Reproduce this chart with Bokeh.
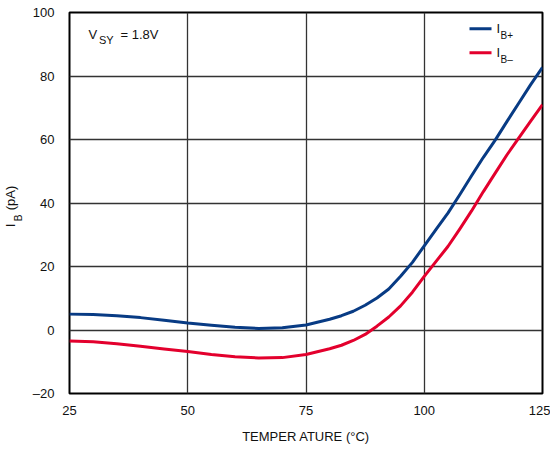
import numpy as np
from bokeh.plotting import figure
from bokeh.models import FixedTicker, Label, BoxAnnotation, ColumnDataSource, LinearAxis
from bokeh.embed import file_html
from bokeh.resources import INLINE

# ---- data ----
temperature = [25, 30, 35, 40, 45, 50, 55, 60, 65, 70, 75, 80, 82.5, 85, 87.5, 90, 92.5, 95, 97.5,
               100, 102.5, 105, 107.5, 110, 112.5, 115, 117.5, 120, 122.5, 125]
ib_plus = [5.0, 4.9, 4.5, 3.9, 3.1, 2.2, 1.5, 0.9, 0.5, 0.7, 1.6, 3.4, 4.5, 5.9, 7.8, 10.1, 12.9, 16.9, 21.3,
           26.5, 31.7, 36.8, 42.6, 48.6, 54.4, 59.8, 65.7, 71.5, 77.3, 82.7]
ib_minus = [-3.5, -3.7, -4.3, -5.1, -6.0, -6.8, -7.7, -8.4, -8.8, -8.7, -7.7, -5.9, -4.8, -3.3, -1.4, 1.2, 4.1, 7.6, 11.9,
            16.9, 21.6, 26.3, 31.8, 37.5, 43.6, 49.4, 55.2, 60.5, 65.8, 71.0]
x_ticks = [25, 50, 75, 100, 125]
y_ticks = [-20, 0, 20, 40, 60, 80, 100]

BLUE = "#083b84"
RED = "#e3002d"
FONT = "Liberation Sans"
TXT = "#111111"

W, H = 550, 450
ML, MR, MT, MB = 68, 8, 12, 57
FW = W - ML - MR          # frame width in px
FH = H - MT - MB          # frame height in px
Y0, Y1 = -20, 100

p = figure(width=W, height=H, x_range=(25, 125), y_range=(Y0, Y1),
           output_backend="svg", toolbar_location=None,
           min_border_left=ML, min_border_right=MR, min_border_top=MT, min_border_bottom=MB)

p.background_fill_color = "white"
p.border_fill_color = "white"
p.outline_line_color = "black"
p.outline_line_width = 2

src = ColumnDataSource(dict(t=temperature, ibp=ib_plus, ibm=ib_minus))
p.line("t", "ibp", source=src, line_color=BLUE, line_width=3, line_join="round")
p.line("t", "ibm", source=src, line_color=RED, line_width=3, line_join="round")

def plain(ax):
    ax.axis_line_color = None
    ax.major_tick_line_color = None
    ax.minor_tick_line_color = None
    ax.major_tick_out = 0
    ax.major_tick_in = 0
    ax.minor_tick_out = 0
    ax.minor_tick_in = 0
    ax.major_label_text_font = FONT
    ax.major_label_text_font_size = "13px"
    ax.major_label_text_color = TXT

# main axes
p.xaxis.ticker = FixedTicker(ticks=x_ticks)
p.yaxis.ticker = FixedTicker(ticks=y_ticks)
p.yaxis.major_label_overrides = {-20: "\u201320"}
plain(p.xaxis[0])
plain(p.yaxis[0])
p.xaxis.major_label_standoff = 12
p.yaxis.major_label_standoff = 15
p.xaxis.axis_label = "TEMPER ATURE (\u00b0C)"
p.xaxis.axis_label_text_font = FONT
p.xaxis.axis_label_text_font_size = "13px"
p.xaxis.axis_label_text_font_style = "normal"
p.xaxis.axis_label_text_color = TXT
p.xaxis.axis_label_standoff = 11

p.xgrid.ticker = FixedTicker(ticks=x_ticks)
p.ygrid.ticker = FixedTicker(ticks=y_ticks)
for g in (p.xgrid[0], p.ygrid[0]):
    g.grid_line_color = "#333333"
    g.grid_line_width = 1.3

# y-axis title  I_B (pA): vertical text placed by two label-only axes
def y_at(px):  # page pixel row -> y value (for placing the title pieces)
    return round(Y0 + (MT + FH - px) / FH * (Y1 - Y0), 2)

yI, yB, yPA = y_at(225), y_at(217.5), y_at(197.5)

sub_axis = LinearAxis(ticker=FixedTicker(ticks=[yB]), major_label_overrides={yB: "B"})
plain(sub_axis)
sub_axis.major_label_text_font_size = "10px"
sub_axis.major_label_orientation = "vertical"
sub_axis.major_label_standoff = 5
p.add_layout(sub_axis, "left")

main_axis = LinearAxis(ticker=FixedTicker(ticks=[yI, yPA]), major_label_overrides={yI: "I", yPA: "(pA)"})
plain(main_axis)
main_axis.major_label_orientation = "vertical"
main_axis.major_label_standoff = -8
p.add_layout(main_axis, "left")

def lab(text, x, y, size, align="left"):
    p.add_layout(Label(x=x, y=y, x_units="screen", y_units="screen", text=text,
                       text_font=FONT, text_font_size=size, text_color=TXT,
                       text_align=align, text_baseline="middle"))

# annotation V_SY = 1.8V
lab("V", 19, 359.5, "13px")
lab("SY", 29.5, 354, "11px")
lab("= 1.8V", 51, 359.5, "13px")

# legend (anchored to the right edge of the frame)
def swatch(color, y):
    p.add_layout(BoxAnnotation(left=FW - 74, right=FW - 52, bottom=y - 1.5, top=y + 1.5,
                               left_units="screen", right_units="screen",
                               bottom_units="screen", top_units="screen",
                               fill_color=color, fill_alpha=1, line_color=None))
swatch(BLUE, 364.7)
swatch(RED, 340.7)
lab("I", FW - 47, 365, "13px")
lab("B+", FW - 43, 358.5, "10px")
lab("I", FW - 47, 341, "13px")
lab("B\u2013", FW - 43, 334.5, "10px")

open("out.html", "w").write(file_html(p, INLINE))
